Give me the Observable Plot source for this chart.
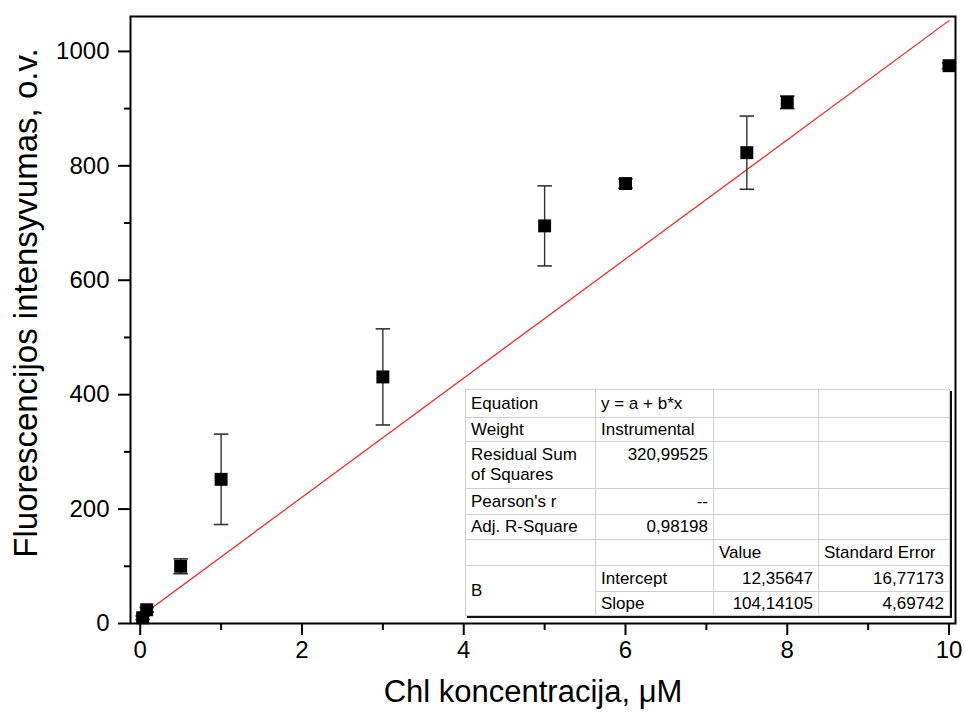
<!DOCTYPE html>
<html>
<head>
<meta charset="utf-8">
<script src="https://cdn.jsdelivr.net/npm/d3@7"></script>
<script src="https://cdn.jsdelivr.net/npm/@observablehq/plot@0.6"></script>
<style>
  html, body { margin: 0; padding: 0; background: #fff; }
  #wrap { position: relative; width: 965px; height: 720px; font-family: "Liberation Sans", Arial, sans-serif; }
  #fit { position: absolute; left: 465px; top: 389px; width: 484px; border-collapse: collapse; font-size: 17px; color: #000;
         background: #fff; border: 1.5px solid #222; box-shadow: 2px 2px 0 #111; table-layout: fixed; }
  #fit td { border: 1px solid #cfcfcf; padding: 0 5px; vertical-align: middle; white-space: nowrap; line-height: 20px; overflow: hidden; }
  #fit td.r { text-align: right; }
  #fit td.top { vertical-align: top; padding-top: 3px; }
</style>
</head>
<body>
<div id="wrap"></div>
<script>
// --- data ---
const concentration = [0.03, 0.08, 0.5, 1, 3, 5, 6, 7.5, 8, 10];          // Chl, µM
const intensity     = [10, 24, 100, 252, 431, 695, 769, 823, 911, 975];   // fluorescence, o.v.
const errorSD       = [3, 4, 13, 79, 84, 70, 8, 64, 11, 5];
const fitIntercept = 12.35647;
const fitSlope = 104.14105;
const fitRange = [0.03, 10];
const xMajorTicks = [0, 2, 4, 6, 8, 10];
const xMinorTicks = [1, 3, 5, 7, 9];
const yMajorTicks = [0, 200, 400, 600, 800, 1000];
const yMinorTicks = [100, 300, 500, 700, 900];
const xLabel = "Chl koncentracija, μM";
const yLabel = "Fluorescencijos intensyvumas, o.v.";
const tableRows = [
  ["Equation", "y = a + b*x"],
  ["Weight", "Instrumental"],
  ["Residual Sum<br>of Squares", "320,99525"],
  ["Pearson's r", "--"],
  ["Adj. R-Square", "0,98198"]
];

const points = concentration.map((x, i) => ({x, y: intensity[i], lo: intensity[i] - errorSD[i], hi: intensity[i] + errorSD[i]}));
const fitLine = fitRange.map(x => ({x, y: fitIntercept + fitSlope * x}));

const capSymbol = {
  draw(ctx, size) {
    const w = Math.sqrt(size) / 2;
    ctx.moveTo(-w, 0);
    ctx.lineTo(w, 0);
  }
};

const plain = d3.format("d");

const chart = Plot.plot({
  width: 965,
  height: 720,
  marginLeft: 130,
  marginRight: 10,
  marginTop: 16,
  marginBottom: 97,
  style: {fontFamily: "'Liberation Sans', Arial, sans-serif", color: "#000", background: "#fff"},
  x: {domain: [-0.12, 10.08]},
  y: {domain: [0, 1061]},
  marks: [
    Plot.axisX(xMajorTicks, {tickSize: 12, tickPadding: 5, fontSize: 24, strokeWidth: 2, label: null, tickFormat: plain}),
    Plot.axisX(xMinorTicks, {tickSize: 7, tickFormat: () => "", strokeWidth: 2, label: null}),
    Plot.axisY(yMajorTicks, {tickSize: 12, tickPadding: 9, fontSize: 24, strokeWidth: 2, label: null, tickFormat: plain}),
    Plot.axisY(yMinorTicks, {tickSize: 6, tickFormat: () => "", strokeWidth: 2, label: null}),
    Plot.line(fitLine, {x: "x", y: "y", stroke: "#ff1a1a", strokeWidth: 1.2}),
    Plot.link(points, {x1: "x", x2: "x", y1: "lo", y2: "hi", stroke: "#333", strokeWidth: 1.4}),
    Plot.dot(points, {x: "x", y: "lo", symbol: capSymbol, r: 8.2, stroke: "#333", strokeWidth: 1.6, fill: "none"}),
    Plot.dot(points, {x: "x", y: "hi", symbol: capSymbol, r: 8.2, stroke: "#333", strokeWidth: 1.6, fill: "none"}),
    Plot.dot(points, {x: "x", y: "y", symbol: "square", r: 7.3, fill: "#000", stroke: "none"}),
    Plot.frame({stroke: "#000", strokeWidth: 2}),
    Plot.text([xLabel], {frameAnchor: "bottom", textAnchor: "middle", dx: -10, dy: 78, fontSize: 31, fill: "#000"}),
    Plot.text([yLabel], {frameAnchor: "left", textAnchor: "middle", lineAnchor: "middle", rotate: -90, dx: -104, dy: -17, fontSize: 33, fill: "#000"})
  ]
});

const wrap = document.getElementById("wrap");
wrap.appendChild(chart);

// fit summary table (overlay)
const colW = [130, 118, 105, 131];
const rowH = [28, 24, 47, 26, 25, 26, 26, 24];
let html = '<table id="fit"><colgroup>' + colW.map(w => `<col style="width:${w}px">`).join("") + '</colgroup>';
tableRows.forEach((r, i) => {
  const numeric = /^[0-9,\-]+$/.test(r[1]);
  const cls = (numeric ? "r" : "") + (i === 2 ? " top" : "");
  html += `<tr style="height:${rowH[i]}px"><td>${r[0]}</td><td class="${cls}">${r[1]}</td><td></td><td></td></tr>`;
});
html += `<tr style="height:${rowH[5]}px"><td></td><td></td><td>Value</td><td>Standard Error</td></tr>`;
html += `<tr style="height:${rowH[6]}px"><td rowspan="2">B</td><td>Intercept</td><td class="r">12,35647</td><td class="r">16,77173</td></tr>`;
html += `<tr style="height:${rowH[7]}px"><td>Slope</td><td class="r">104,14105</td><td class="r">4,69742</td></tr>`;
html += '</table>';
wrap.insertAdjacentHTML("beforeend", html);
</script>
</body>
</html>
